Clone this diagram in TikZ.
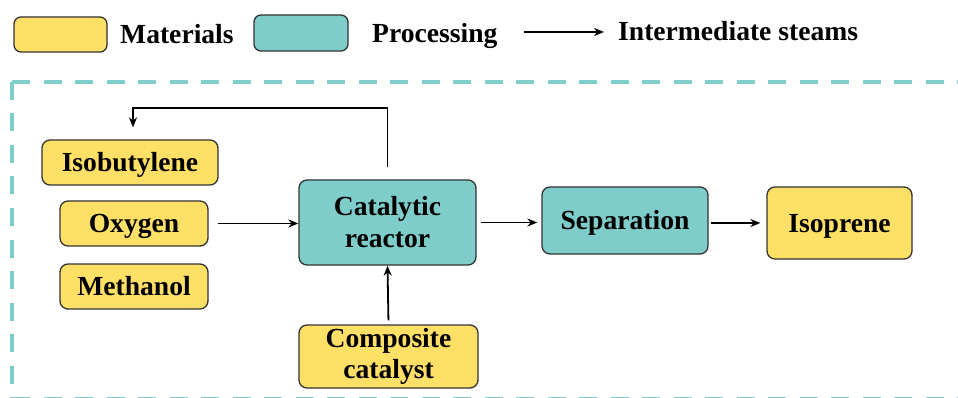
\documentclass[tikz,border=0pt]{standalone}
\usepackage{fontspec}
\setmainfont{Liberation Serif}
\usetikzlibrary{arrows.meta}
\definecolor{matY}{HTML}{FFE066}
\definecolor{proT}{HTML}{7ECDCA}
\definecolor{edgeC}{HTML}{333333}
\begin{document}
\begin{tikzpicture}[x=1pt,y=-1pt,
  font=\fontsize{27.6}{31}\selectfont\bfseries,
  boxbase/.style={draw=edgeC, line width=1.3pt, rounded corners=8pt, inner sep=0pt, align=center},
  mat/.style={boxbase, fill=matY},
  proc/.style={boxbase, fill=proT},
  oneline/.style={text height=18.3pt, text depth=0pt},
  arr/.style={line width=1.8pt, -{Stealth[length=10pt,width=8pt]}},
  lbl/.style={anchor=base west, inner sep=0pt},
  frame/.style={proT, line width=4pt, dash pattern=on 18pt off 13.5pt}]
\useasboundingbox (0,0) rectangle (958,398);
\begin{scope}
  \clip (0,0) rectangle (958,398);
  \draw[frame] (12,82) -- (1000,82);
  \draw[frame] (12,82) -- (12,399);
  \draw[frame] (12,399) -- (1000,399);
\end{scope}
% legend
\node[mat, minimum width=93pt, minimum height=35pt, rounded corners=7pt] (legMat) at (60.5,34.5) {};
\node[lbl] (tMat) at (120,44) {Materials};
\node[proc, minimum width=94pt, minimum height=36pt, rounded corners=7pt] (legProc) at (301,33) {};
\node[lbl] (tProc) at (372,43) {Processing};
\coordinate (la) at (524,32);
\coordinate (lb) at (604,32);
\draw[arr] (la) -- (lb);
\node[lbl] (tInt) at (618,41) {Intermediate steams};
% nodes
\node[mat, oneline, minimum width=176pt, minimum height=45pt] (iso) at (130,162.5) {Isobutylene};
\node[mat, oneline, minimum width=148pt, minimum height=45pt] (oxy) at (134,223.5) {Oxygen};
\node[mat, oneline, minimum width=148pt, minimum height=45pt] (meth) at (134,286.5) {Methanol};
\node[proc, minimum width=177pt, minimum height=85pt] (reac) at (387.5,222.5) {\raisebox{-2pt}{Catalytic}\\\raisebox{-3pt}{reactor}};
\node[mat, minimum width=179pt, minimum height=63pt] (comp) at (388.5,356.5) {Composite\\catalyst};
\node[proc, oneline, minimum width=166pt, minimum height=67pt] (sep) at (625,220.5) {Separation};
\node[mat, oneline, minimum width=145pt, minimum height=72pt] (isop) at (839.5,223) {Isoprene};
% connectors
\draw[arr, shorten <=9pt] (oxy.east) -- (oxy.east -| reac.west);
\draw[arr, shorten <=4pt, shorten >=4pt] (reac.east) -- (reac.east -| sep.west);
\draw[arr, shorten <=2pt, shorten >=6pt] (sep.east |- isop.west) -- (isop.west);
\draw[arr, shorten <=4pt] (comp.north) -- (reac.south);
\coordinate (fbc) at (133,108);
\draw[arr, shorten <=12pt, shorten >=12pt] (reac.north) |- (fbc) -- (fbc |- iso.north);
\end{tikzpicture}
\end{document}
